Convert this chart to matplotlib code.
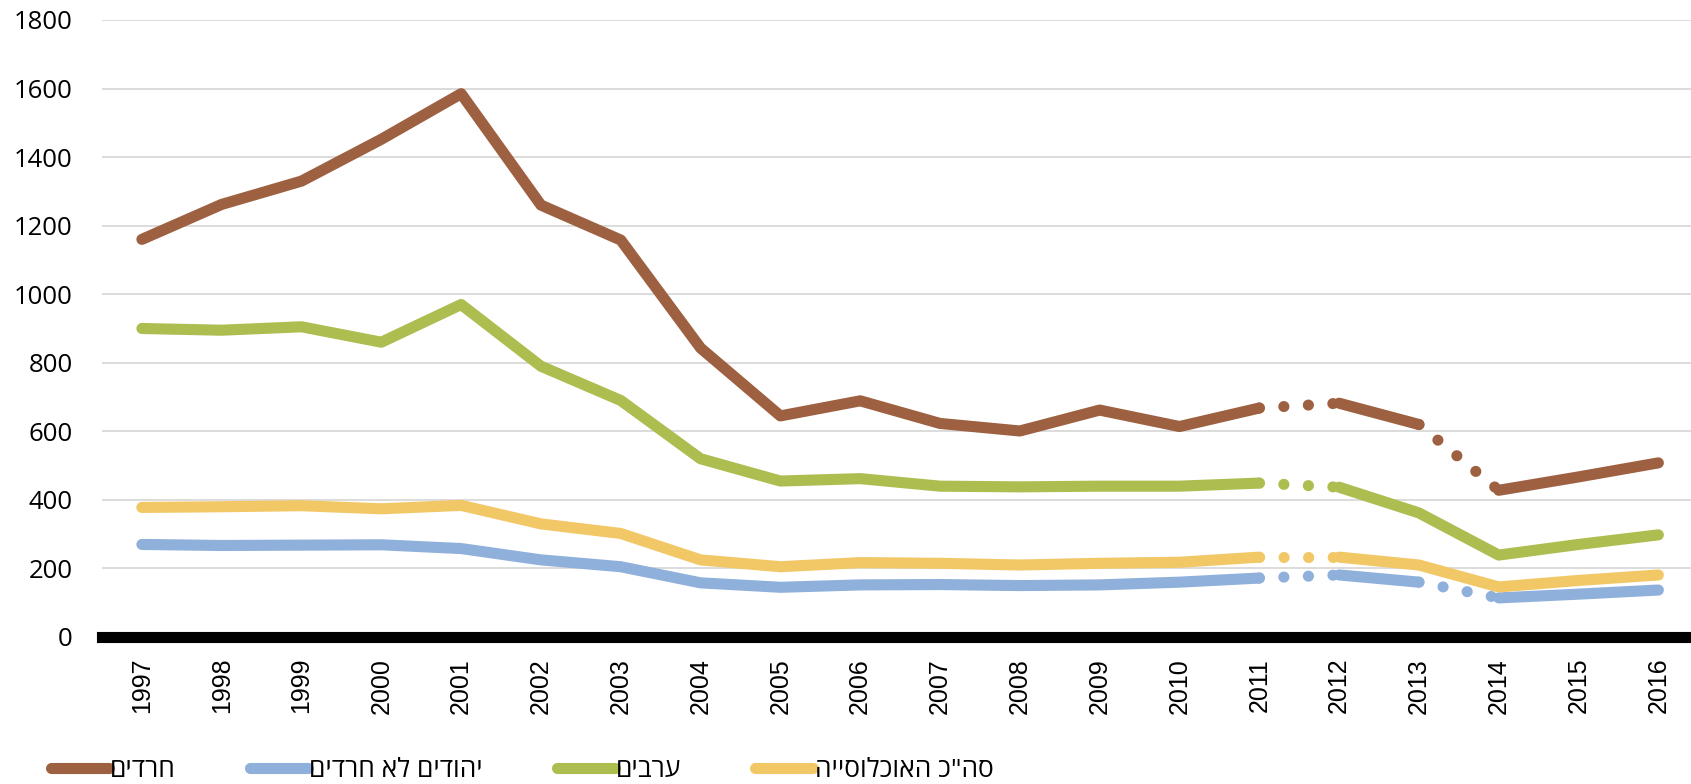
import matplotlib
matplotlib.use('Agg')
from matplotlib import pyplot as plt
import numpy as np

# data
years = [str(y) for y in range(1997, 2017)]
haredim = [1160, 1262, 1330, 1452, 1585, 1260, 1158, 843, 645, 689, 623, 601, 662, 614, 668, 682, 620, 428, 467, 508]
jews_non_haredi = [270, 267, 268, 269, 258, 225, 205, 158, 145, 152, 153, 150, 152, 160, 172, 181, 160, 114, 125, 137]
arabs = [900, 895, 905, 860, 970, 790, 690, 520, 455, 462, 440, 438, 440, 440, 449, 437, 362, 239, 270, 298]
total = [378, 380, 383, 374, 384, 330, 302, 225, 205, 217, 215, 210, 215, 218, 233, 233, 210, 146, 165, 181]

labels = ['חרדים', 'יהודים לא חרדים', 'ערבים', 'סה"כ האוכלוסייה']
colors = ['#9D6041', '#8EB0DA', '#AEBD4F', '#F2C766']
# which year-to-year steps are drawn dotted (index of the left year)
dotted = [[14, 16], [14, 16], [14], [14]]
series = [haredim, jews_non_haredi, arabs, total]

fig = plt.figure(figsize=(16.91, 7.84), dpi=100)
ax = fig.add_axes([0.0603, 0.1875, 0.944, 0.787])
x = np.arange(len(years))
lw = 8

for vals, col, lab, dots in zip(series, colors, labels, dotted):
    v = np.array(vals, dtype=float)
    # solid parts: break the line at each dotted step
    first = True
    start = 0
    for d in dots + [len(v) - 1]:
        ax.plot(x[start:d + 1], v[start:d + 1], color=col, lw=lw,
                solid_capstyle='round', solid_joinstyle='round',
                label=lab[::-1] if first else None)
        first = False
        start = d + 1
    for d in dots:
        ax.plot(x[d:d + 2], v[d:d + 2], color=col, lw=lw,
                linestyle=(0, (0.01, 2.2)), dash_capstyle='round')

ax.set_xlim(-0.5, 19.5)
ax.set_ylim(0, 1800)
ax.set_yticks(range(0, 1801, 200))
ax.set_xticks(x)
ax.set_xticklabels(years, rotation=90)
ax.tick_params(axis='x', labelsize=18, labelfontfamily='Liberation Sans', pad=15, length=0)
ax.tick_params(axis='y', labelsize=18.5, labelfontfamily='Open Sans', pad=21, length=0)
ax.grid(axis='y', color='#d9d9d9', lw=1.3)
ax.set_axisbelow(True)
for s in ['top', 'right', 'left']:
    ax.spines[s].set_visible(False)
ax.spines['bottom'].set_color('black')
ax.spines['bottom'].set_linewidth(8)
ax.spines['bottom'].set_zorder(5)

leg = fig.legend(loc='center left', bbox_to_anchor=(0.016, 0.017), ncol=4, frameon=False,
                 handlelength=2.2, handletextpad=0.05, columnspacing=2.8,
                 prop={'family': ['Open Sans', 'Liberation Sans', 'DejaVu Sans'], 'size': 19})
for h in leg.legend_handles:
    h.set_solid_capstyle('round')

plt.savefig('out.png', dpi=100)
